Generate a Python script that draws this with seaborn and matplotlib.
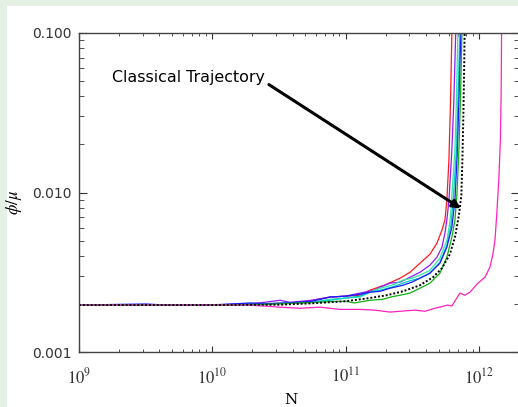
import numpy as np
import matplotlib
matplotlib.use("Agg")
import matplotlib.pyplot as plt
import matplotlib.ticker as mticker
from matplotlib.patches import Rectangle
import seaborn as sns
import pandas as pd

# values (N, phi/mu) for each run
red_n = [1e9, 1.77e9, 3.18e9, 5.72e9, 1e10, 1.36e10, 1.79e10, 3.22e10, 4.54e10, 5.59e10, 7.63e10,
         1.0e11, 1.28e11, 1.52e11, 1.97e11, 2.56e11, 3.04e11, 3.61e11, 4.29e11, 4.84e11, 5.28e11,
         5.56e11, 5.75e11, 5.96e11, 6.13e11, 6.27e11, 6.3e11]
red_phi = [0.00197, 0.00197, 0.00197, 0.00198, 0.00198, 0.00197, 0.0020, 0.00202, 0.00205, 0.00211, 0.00221,
           0.00224, 0.00227, 0.00244, 0.00263, 0.0029, 0.00316, 0.0036, 0.0041, 0.0048, 0.0058,
           0.0067, 0.0089, 0.0160, 0.0376, 0.0986, 0.15]

purple_n = [1e9, 3.18e9, 1e10, 1.79e10, 2.48e10, 3.22e10, 3.82e10, 5.59e10, 7.63e10, 1e11, 1.28e11,
            1.66e11, 1.81e11, 2.15e11, 2.56e11, 3.04e11, 3.61e11, 4.29e11, 4.84e11, 5.28e11, 5.56e11,
            5.75e11, 5.96e11, 6.27e11, 6.49e11, 6.70e11, 6.75e11]
purple_phi = [0.00197, 0.00197, 0.00198, 0.0020, 0.00205, 0.00211, 0.00205, 0.00211, 0.00221, 0.00224, 0.00234,
              0.00244, 0.00255, 0.0027, 0.00274, 0.00294, 0.00316, 0.0035, 0.00393, 0.00453, 0.00554,
              0.0067, 0.0089, 0.0183, 0.0376, 0.0986, 0.15]

spring_n = [1e9, 3.18e9, 1e10, 1.79e10, 3.22e10, 5.59e10, 7.63e10, 1e11, 1.28e11, 1.52e11, 1.81e11,
            2.23e11, 2.69e11, 3.14e11, 3.61e11, 4.29e11, 5.10e11, 5.75e11, 6.06e11, 6.17e11, 6.38e11,
            6.61e11, 6.78e11, 6.96e11, 7.02e11]
spring_phi = [0.00197, 0.00197, 0.00197, 0.00198, 0.00202, 0.00205, 0.00214, 0.00218, 0.00221, 0.00237, 0.00251,
              0.00262, 0.00282, 0.0029, 0.00303, 0.00325, 0.00387, 0.00501, 0.0065, 0.0077, 0.0119,
              0.0183, 0.0376, 0.0986, 0.15]

turq_n = [1e9, 3.18e9, 1e10, 1.79e10, 3.22e10, 5.59e10, 7.63e10, 1e11, 1.28e11, 1.52e11, 1.81e11,
          2.23e11, 2.69e11, 3.14e11, 3.61e11, 4.29e11, 5.10e11, 5.75e11, 6.17e11, 6.38e11, 6.78e11,
          6.96e11, 7.20e11, 7.26e11]
turq_phi = [0.00197, 0.00196, 0.00197, 0.0020, 0.00202, 0.00205, 0.00211, 0.00218, 0.00224, 0.00237, 0.00244,
            0.00255, 0.0027, 0.00282, 0.0029, 0.00312, 0.00365, 0.00466, 0.00622, 0.0083, 0.0183,
            0.0376, 0.0986, 0.15]

blue_n = [1e9, 3.18e9, 4.42e9, 1e10, 1.92e10, 2.48e10, 3.22e10, 4.54e10, 5.59e10, 7.63e10, 1e11,
          1.28e11, 1.52e11, 1.81e11, 2.15e11, 2.69e11, 3.14e11, 3.61e11, 4.29e11, 5.10e11, 5.75e11,
          6.27e11, 6.61e11, 6.90e11, 7.08e11, 7.33e11, 7.40e11]
blue_phi = [0.00197, 0.0020, 0.00197, 0.00197, 0.00203, 0.0020, 0.00202, 0.00205, 0.00208, 0.00221, 0.00224,
            0.0023, 0.00237, 0.0024, 0.00251, 0.00262, 0.00274, 0.0029, 0.00312, 0.0036, 0.00453,
            0.00604, 0.0089, 0.0183, 0.0376, 0.0986, 0.15]

green_n = [1e9, 3.18e9, 1e10, 1.79e10, 3.22e10, 4.54e10, 5.59e10, 7.63e10, 1e11, 1.17e11, 1.52e11,
           1.90e11, 2.23e11, 2.56e11, 3.04e11, 3.61e11, 4.29e11, 5.10e11, 5.75e11, 6.27e11, 6.61e11,
           6.84e11, 7.08e11, 7.27e11, 7.46e11, 7.52e11]
green_phi = [0.00197, 0.00197, 0.00197, 0.00198, 0.0020, 0.00203, 0.00204, 0.00207, 0.00208, 0.00203, 0.00211,
             0.00214, 0.00222, 0.00227, 0.00234, 0.00251, 0.0027, 0.00312, 0.00393, 0.00523, 0.00668,
             0.0096, 0.0183, 0.0376, 0.0986, 0.15]

magenta_n = [1e9, 3.18e9, 1e10, 1.79e10, 2.48e10, 3.22e10, 4.54e10, 6.42e10, 9.07e10, 1.28e11, 1.66e11,
             2.15e11, 2.56e11, 3.31e11, 3.94e11, 4.68e11, 5.86e11, 6.27e11, 7.20e11, 7.85e11, 8.56e11,
             9.83e11, 1.11e12, 1.21e12, 1.27e12, 1.32e12, 1.36e12, 1.41e12, 1.45e12, 1.47e12, 1.48e12, 1.49e12]
magenta_phi = [0.00197, 0.00197, 0.00197, 0.00197, 0.00194, 0.00191, 0.00188, 0.00191, 0.00185, 0.00185, 0.00183,
               0.00178, 0.0018, 0.00183, 0.0018, 0.00188, 0.00197, 0.00194, 0.00234, 0.00227, 0.00237,
               0.0027, 0.00294, 0.0034, 0.00404, 0.00501, 0.00718, 0.0119, 0.0211, 0.0434, 0.0986, 0.15]

classical_n = [1e9, 1e10, 3.22e10, 5.59e10, 1e11, 1.52e11, 2.04e11, 2.69e11, 3.61e11, 4.52e11, 5.28e11,
               6.06e11, 6.61e11, 7.08e11, 7.39e11, 7.52e11, 7.66e11, 7.77e11, 7.83e11]
classical_phi = [0.00197, 0.00197, 0.00198, 0.00202, 0.00208, 0.00218, 0.00227, 0.0024, 0.00262, 0.00294, 0.00335,
                 0.0041, 0.00523, 0.00718, 0.0096, 0.0158, 0.0326, 0.0668, 0.119]

runs = {
    "red": (red_n, red_phi),
    "purple": (purple_n, purple_phi),
    "spring": (spring_n, spring_phi),
    "turq": (turq_n, turq_phi),
    "blue": (blue_n, blue_phi),
    "green": (green_n, green_phi),
    "magenta": (magenta_n, magenta_phi),
}
colors = {
    "red": "#ff1a1a",
    "purple": "#8c1aff",
    "spring": "#2ee8a0",
    "turq": "#00c8c8",
    "blue": "#1a1aff",
    "green": "#10b010",
    "magenta": "#ff22bb",
}

rows = []
for name, (ns, ph) in runs.items():
    for n, p in zip(ns, ph):
        rows.append((name, n, p))
df = pd.DataFrame(rows, columns=["run", "N", "phi"])
df_cl = pd.DataFrame({"N": classical_n, "phi": classical_phi})

plt.rcParams["mathtext.fontset"] = "stix"

fig = plt.figure(figsize=(5.18, 4.07), dpi=100)
fig.patch.set_facecolor("#e4f0e4")
fig.add_artist(Rectangle((7 / 518, 0), 1, 1 - 6 / 407, transform=fig.transFigure,
                         facecolor="white", edgecolor="none", zorder=-1))

ax = fig.add_axes([79 / 518, 1 - 352 / 407, 440 / 518, 319 / 407])
ax.set_xscale("log")
ax.set_yscale("log")

sns.lineplot(data=df, x="N", y="phi", hue="run", palette=colors, estimator=None,
             sort=False, legend=False, linewidth=0.9, ax=ax)
sns.lineplot(data=df_cl, x="N", y="phi", color="black", linestyle=(0, (1, 1)),
             estimator=None, sort=False, linewidth=1.4, ax=ax)

ax.set_xlim(1e9, 2e12)
ax.set_ylim(1e-3, 1e-1)

ax.yaxis.set_major_locator(mticker.FixedLocator([1e-3, 1e-2, 1e-1]))
ax.yaxis.set_major_formatter(mticker.FuncFormatter(lambda v, p: f"{v:.3f}"))
ax.yaxis.set_minor_locator(mticker.LogLocator(base=10, subs=np.arange(2, 10)))
ax.yaxis.set_minor_formatter(mticker.NullFormatter())
ax.xaxis.set_major_locator(mticker.FixedLocator([1e9, 1e10, 1e11, 1e12]))
ax.xaxis.set_major_formatter(mticker.FuncFormatter(lambda v, p: r"$10^{%d}$" % round(np.log10(v))))
ax.xaxis.set_minor_locator(mticker.LogLocator(base=10, subs=np.arange(2, 10)))
ax.xaxis.set_minor_formatter(mticker.NullFormatter())

ax.tick_params(which="both", direction="in", top=True, right=True, colors="#333333")
ax.tick_params(axis="y", which="major", length=6, labelsize=10, pad=5)
ax.tick_params(axis="y", which="minor", length=3.3)
ax.tick_params(axis="x", which="major", length=4.5, labelsize=12, pad=11)
ax.tick_params(axis="x", which="minor", length=2.3)
for sp in ax.spines.values():
    sp.set_color("#444444")
    sp.set_linewidth(1.0)

ax.set_xlabel("N", fontsize=11, family="serif")
ax.xaxis.set_label_coords(212 / 440, -0.13)
ax.set_ylabel(r"$\phi/\mu$", fontsize=12)
ax.yaxis.set_label_coords(-0.125, 0.47)

ax.annotate("Classical Trajectory", xy=(7.33e11, 0.00794), xytext=(1.77e9, 0.0526),
            fontsize=11.4, ha="left", va="center",
            arrowprops=dict(arrowstyle="-|>", color="black", lw=2.2, mutation_scale=12,
                            shrinkA=1, shrinkB=0, relpos=(1.0, 0.2)))

fig.savefig("out.png", dpi=100, facecolor=fig.get_facecolor())
